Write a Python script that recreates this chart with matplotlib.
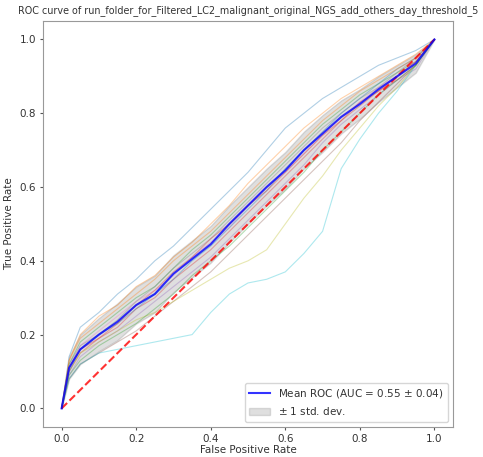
import numpy as np
import matplotlib
matplotlib.use('Agg')
import matplotlib.pyplot as plt

# Common false positive rate knots
fpr = [0, 0.02, 0.05, 0.10, 0.15, 0.20, 0.25, 0.30, 0.35, 0.40, 0.45,
       0.50, 0.55, 0.60, 0.65, 0.70, 0.75, 0.80, 0.85, 0.90, 0.95, 1.0]

# Mean ROC and its std dev at those knots
mean_tpr = [0, 0.11, 0.16, 0.20, 0.235, 0.28, 0.31, 0.365, 0.405, 0.445, 0.50,
            0.55, 0.60, 0.645, 0.70, 0.745, 0.79, 0.825, 0.865, 0.90, 0.935, 1.0]
std_tpr = [0, 0.03, 0.04, 0.045, 0.05, 0.05, 0.05, 0.05, 0.05, 0.05, 0.05,
           0.05, 0.05, 0.05, 0.05, 0.05, 0.045, 0.04, 0.035, 0.03, 0.025, 0]

# Individual fold curves (approximate)
folds = [
    [0, 0.14, 0.22, 0.26, 0.31, 0.35, 0.40, 0.44, 0.49, 0.54, 0.59, 0.64, 0.70, 0.76, 0.80, 0.84, 0.87, 0.90, 0.93, 0.95, 0.97, 1.0],
    [0, 0.13, 0.20, 0.25, 0.28, 0.33, 0.36, 0.41, 0.45, 0.50, 0.55, 0.61, 0.66, 0.71, 0.76, 0.80, 0.84, 0.87, 0.90, 0.93, 0.96, 1.0],
    [0, 0.12, 0.18, 0.22, 0.26, 0.30, 0.33, 0.38, 0.43, 0.47, 0.52, 0.57, 0.62, 0.67, 0.72, 0.77, 0.81, 0.85, 0.88, 0.91, 0.94, 1.0],
    [0, 0.10, 0.15, 0.19, 0.22, 0.27, 0.30, 0.35, 0.39, 0.43, 0.48, 0.53, 0.58, 0.63, 0.68, 0.73, 0.78, 0.82, 0.86, 0.89, 0.93, 1.0],
    [0, 0.09, 0.14, 0.18, 0.21, 0.25, 0.29, 0.33, 0.37, 0.41, 0.46, 0.51, 0.56, 0.61, 0.66, 0.72, 0.77, 0.81, 0.85, 0.89, 0.92, 1.0],
    [0, 0.08, 0.12, 0.15, 0.18, 0.21, 0.25, 0.29, 0.33, 0.37, 0.42, 0.47, 0.52, 0.57, 0.62, 0.67, 0.72, 0.78, 0.83, 0.88, 0.93, 1.0],
    [0, 0.11, 0.17, 0.21, 0.25, 0.29, 0.32, 0.36, 0.41, 0.45, 0.49, 0.55, 0.60, 0.64, 0.69, 0.74, 0.79, 0.83, 0.87, 0.90, 0.94, 1.0],
    [0, 0.12, 0.17, 0.20, 0.24, 0.29, 0.33, 0.38, 0.42, 0.46, 0.51, 0.56, 0.61, 0.66, 0.71, 0.76, 0.80, 0.84, 0.87, 0.91, 0.95, 1.0],
    [0, 0.10, 0.15, 0.18, 0.21, 0.24, 0.26, 0.29, 0.32, 0.35, 0.38, 0.40, 0.43, 0.50, 0.57, 0.63, 0.70, 0.76, 0.82, 0.87, 0.93, 1.0],
    [0, 0.08, 0.12, 0.15, 0.16, 0.17, 0.18, 0.19, 0.20, 0.26, 0.31, 0.34, 0.35, 0.37, 0.42, 0.48, 0.65, 0.73, 0.80, 0.86, 0.93, 1.0],
    [0, 0.10, 0.16, 0.20, 0.23, 0.27, 0.31, 0.35, 0.40, 0.44, 0.49, 0.54, 0.59, 0.65, 0.70, 0.75, 0.80, 0.84, 0.88, 0.92, 0.95, 1.0],
    [0, 0.13, 0.19, 0.23, 0.27, 0.31, 0.35, 0.40, 0.44, 0.48, 0.53, 0.58, 0.63, 0.68, 0.73, 0.78, 0.82, 0.86, 0.89, 0.92, 0.95, 1.0],
    [0, 0.09, 0.13, 0.17, 0.20, 0.23, 0.27, 0.31, 0.36, 0.40, 0.44, 0.49, 0.54, 0.59, 0.64, 0.70, 0.75, 0.80, 0.85, 0.89, 0.93, 1.0],
    [0, 0.11, 0.16, 0.19, 0.23, 0.28, 0.32, 0.37, 0.41, 0.46, 0.50, 0.55, 0.59, 0.64, 0.69, 0.74, 0.78, 0.83, 0.86, 0.90, 0.94, 1.0],
]

mean_auc = 0.55
std_auc = 0.04
title = 'ROC curve of run_folder_for_Filtered_LC2_malignant_original_NGS_add_others_day_threshold_5'

plt.rcParams['font.size'] = 7.5
plt.rcParams['text.color'] = '#333333'
plt.rcParams['axes.labelcolor'] = '#333333'
plt.rcParams['xtick.color'] = '#555555'
plt.rcParams['ytick.color'] = '#555555'
plt.rcParams['xtick.labelcolor'] = '#333333'
plt.rcParams['ytick.labelcolor'] = '#333333'
plt.rcParams['xtick.major.size'] = 2.5
plt.rcParams['ytick.major.size'] = 2.5
plt.rcParams['xtick.major.pad'] = 2.5
plt.rcParams['ytick.major.pad'] = 2.5

fig = plt.figure(figsize=(4.83, 4.57), dpi=100)
fig.subplots_adjust(left=0.089, right=0.938, bottom=0.066, top=0.954)
ax = fig.gca()

# thin per-fold curves
for f in folds:
    ax.plot(fpr, f, lw=0.8, alpha=0.35)

# chance line
ax.plot([0, 1], [0, 1], linestyle='--', lw=1.5, color='r', alpha=0.8)

# mean curve and band
mean_tpr = np.array(mean_tpr)
std_tpr = np.array(std_tpr)
ax.plot(fpr, mean_tpr, color='b', lw=1.5, alpha=0.8,
        label='Mean ROC (AUC = %0.2f $\\pm$ %0.2f)' % (mean_auc, std_auc))
upper = np.minimum(mean_tpr + std_tpr, 1)
lower = np.maximum(mean_tpr - std_tpr, 0)
ax.fill_between(fpr, lower, upper, color='grey', alpha=0.25, label='$\\pm$ 1 std. dev.')

for s in ax.spines.values():
    s.set_color('#999999')

ax.set_xlim(-0.05, 1.05)
ax.set_ylim(-0.05, 1.05)
ax.set_xlabel('False Positive Rate', labelpad=1)
ax.set_ylabel('True Positive Rate')
ax.set_title(title, fontsize=6.9)
ax.legend(loc='lower right')

fig.savefig('out.png', dpi=100)
